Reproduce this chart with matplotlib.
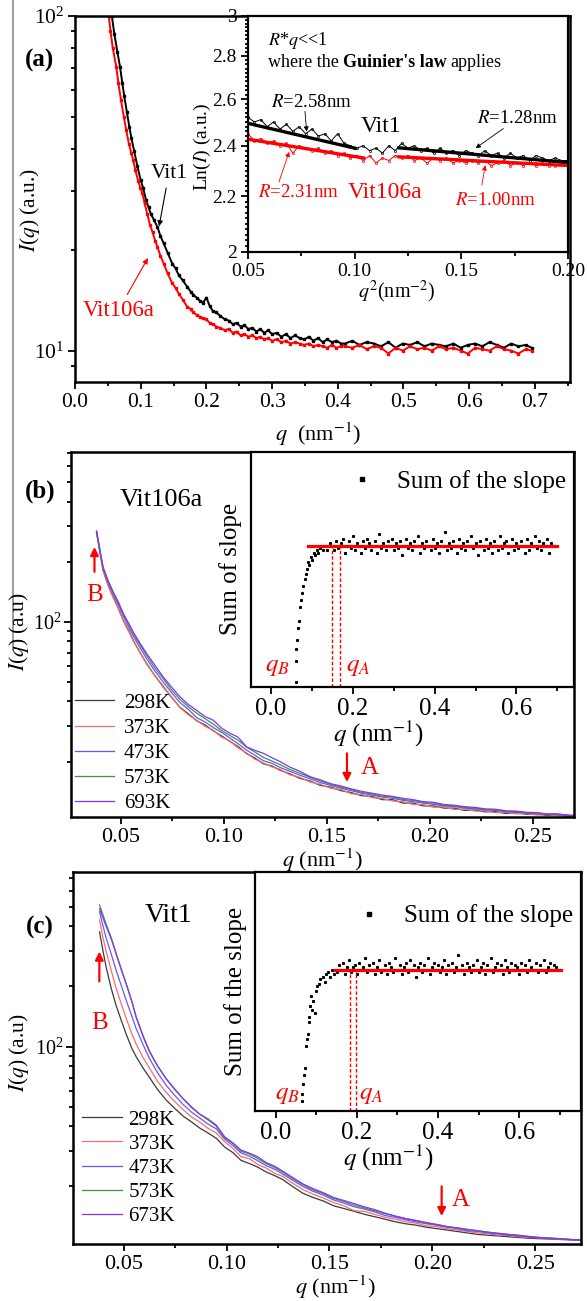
import matplotlib
matplotlib.use("Agg")
import matplotlib.pyplot as plt
from matplotlib.lines import Line2D
from matplotlib.ticker import (MultipleLocator, FixedLocator, FixedFormatter, NullFormatter,
                               LogLocator, FormatStrFormatter)

plt.rcParams['font.family'] = ['Liberation Serif', 'DejaVu Serif']
plt.rcParams['mathtext.fontset'] = 'stix'

W, H = 587, 1301

# ---------------- panel (a): I(q) of the two glasses ----------------
a_vit1 = [(0.056, 100), (0.060, 88), (0.0645, 78), (0.0685, 70.4), (0.072, 63), (0.075, 57.5),
          (0.079, 51.5), (0.0827, 46.6), (0.086, 43), (0.090, 39.5), (0.095, 35.5), (0.0999, 32.3),
          (0.104, 30.5), (0.108, 28.2), (0.112, 26.8), (0.1155, 25.6), (0.120, 24.6), (0.1255, 23.4),
          (0.130, 22.0), (0.135, 20.9), (0.141, 19.6), (0.148, 18.2), (0.153, 17.6), (0.158, 16.8),
          (0.164, 16.2), (0.171, 15.5), (0.176, 15.0), (0.180, 14.7), (0.185, 14.4), (0.190, 14.1),
          (0.195, 13.9), (0.200, 14.4), (0.205, 13.6), (0.210, 13.1), (0.215, 13.0), (0.221, 12.7),
          (0.228, 12.4), (0.234, 12.3), (0.240, 12.0), (0.246, 12.1), (0.252, 11.8), (0.258, 11.9),
          (0.264, 11.6), (0.270, 11.7), (0.276, 11.4), (0.282, 11.6), (0.288, 11.3), (0.294, 11.5),
          (0.300, 11.2), (0.307, 11.3), (0.314, 11.0), (0.321, 11.2), (0.328, 10.9), (0.335, 11.1),
          (0.342, 10.9), (0.349, 10.8), (0.356, 11.0), (0.363, 10.7), (0.370, 10.9), (0.377, 10.6),
          (0.384, 10.8), (0.391, 10.6), (0.398, 10.7), (0.405, 10.5), (0.411, 10.5), (0.422, 10.7),
          (0.433, 10.4), (0.444, 10.6), (0.455, 10.5), (0.466, 10.3), (0.477, 10.6), (0.488, 10.2),
          (0.499, 10.5), (0.510, 10.4), (0.521, 10.6), (0.532, 10.3), (0.543, 10.5), (0.554, 10.4),
          (0.565, 10.3), (0.576, 10.5), (0.587, 10.2), (0.598, 10.4), (0.609, 10.5), (0.620, 10.3),
          (0.631, 10.6), (0.642, 10.4), (0.653, 10.2), (0.664, 10.5), (0.675, 10.3), (0.686, 10.4),
          (0.695, 10.2)]
a_vit106a = [(0.0514, 100), (0.054, 90), (0.0575, 80), (0.0628, 70.4), (0.066, 63), (0.070, 56),
             (0.0742, 50), (0.078, 45.5), (0.082, 41.5), (0.0855, 39), (0.0885, 37.1), (0.092, 34.5),
             (0.096, 32.2), (0.0995, 30.6), (0.1027, 29.5), (0.106, 27.5), (0.110, 25.6), (0.114, 23.8),
             (0.118, 22.6), (0.122, 21.3), (0.1255, 20.4), (0.130, 19.2), (0.135, 18.2), (0.141, 17.0),
             (0.148, 15.9), (0.153, 15.4), (0.158, 14.8), (0.164, 14.2), (0.171, 13.5), (0.176, 13.3),
             (0.180, 13.0), (0.185, 12.8), (0.190, 12.6), (0.195, 12.5), (0.200, 12.4), (0.205, 12.1),
             (0.210, 12.0), (0.215, 11.8), (0.221, 11.7), (0.228, 11.5), (0.234, 11.6), (0.240, 11.3),
             (0.246, 11.4), (0.252, 11.1), (0.258, 11.2), (0.264, 11.0), (0.270, 11.1), (0.276, 10.9),
             (0.282, 11.0), (0.288, 10.8), (0.294, 10.9), (0.300, 10.7), (0.307, 10.8), (0.314, 10.6),
             (0.321, 10.7), (0.328, 10.5), (0.335, 10.6), (0.342, 10.5), (0.349, 10.4), (0.356, 10.5),
             (0.363, 10.3), (0.370, 10.4), (0.377, 10.3), (0.384, 10.2), (0.391, 10.4), (0.398, 10.2),
             (0.405, 10.3), (0.411, 10.3), (0.422, 10.2), (0.433, 10.4), (0.444, 10.1), (0.455, 10.3),
             (0.466, 10.2), (0.477, 9.8), (0.488, 10.2), (0.499, 10.0), (0.510, 10.3), (0.521, 10.1),
             (0.532, 10.2), (0.543, 10.0), (0.554, 10.3), (0.565, 10.1), (0.576, 10.2), (0.587, 10.0),
             (0.598, 9.8), (0.609, 10.2), (0.620, 10.1), (0.631, 10.0), (0.642, 10.3), (0.653, 10.1),
             (0.664, 10.0), (0.675, 9.8), (0.686, 10.1), (0.695, 10.0)]

# inset (a): Guinier plot, ln(I) vs q^2
g_q2 = [0.050, 0.053, 0.056, 0.059, 0.062, 0.065, 0.068, 0.071, 0.074, 0.077, 0.080, 0.083, 0.086,
        0.089, 0.092, 0.095, 0.098, 0.101, 0.104, 0.107, 0.110, 0.113, 0.116, 0.119, 0.122, 0.125,
        0.128, 0.131, 0.134, 0.137, 0.140, 0.143, 0.146, 0.149, 0.152, 0.155, 0.158, 0.161, 0.164,
        0.167, 0.170, 0.173, 0.176, 0.179, 0.182, 0.185, 0.188, 0.191, 0.194, 0.197, 0.200]
g_vit1 = [2.52, 2.50, 2.51, 2.48, 2.50, 2.47, 2.49, 2.46, 2.48, 2.45, 2.47, 2.44, 2.45, 2.42, 2.45,
          2.41, 2.40, 2.39, 2.40, 2.38, 2.39, 2.37, 2.40, 2.38, 2.41, 2.39, 2.40, 2.38, 2.39, 2.37,
          2.39, 2.37, 2.38, 2.36, 2.38, 2.37, 2.36, 2.38, 2.36, 2.37, 2.35, 2.37, 2.35, 2.36, 2.34,
          2.36, 2.35, 2.34, 2.35, 2.34, 2.34]
g_vit106a = [2.45, 2.42, 2.43, 2.41, 2.42, 2.40, 2.41, 2.37, 2.40, 2.39, 2.38, 2.39, 2.37, 2.38,
             2.36, 2.37, 2.35, 2.36, 2.34, 2.36, 2.33, 2.35, 2.34, 2.36, 2.35, 2.36, 2.34, 2.35,
             2.33, 2.35, 2.34, 2.35, 2.33, 2.34, 2.33, 2.34, 2.33, 2.34, 2.32, 2.33, 2.34, 2.32,
             2.33, 2.32, 2.33, 2.32, 2.33, 2.32, 2.32, 2.33, 2.32]
fit_vit1_low = ([0.05, 0.101], [2.494, 2.388])
fit_vit1_high = ([0.12, 0.20], [2.392, 2.332])
fit_106_low = ([0.05, 0.105], [2.427, 2.349])
fit_106_high = ([0.12, 0.20], [2.355, 2.320])

# ---------------- panel (b): Vit106a at different temperatures ----------------
q_b = [0.0383, 0.0400, 0.0415, 0.0440, 0.0464, 0.0490, 0.0513, 0.0540, 0.0561, 0.0595, 0.0626,
       0.0665, 0.0707, 0.0745, 0.0788, 0.0830, 0.0869, 0.0910, 0.0950, 0.0990, 0.1031, 0.1070,
       0.1112, 0.1150, 0.1193, 0.1235, 0.1274, 0.1320, 0.1370, 0.1420, 0.1470, 0.1520, 0.1570,
       0.1620, 0.1670, 0.1720, 0.1770, 0.1820, 0.1870, 0.1920, 0.1970, 0.2020, 0.2070, 0.2120,
       0.2170, 0.2220, 0.2270, 0.2320, 0.2370, 0.2420, 0.2470, 0.2520, 0.2570, 0.2620, 0.2670, 0.2700]
b_298 = [282, 222, 181, 152, 133, 116, 102, 90, 81, 70, 62, 54, 47.5, 42.2, 37.4, 34.6, 32.0, 30.5,
         28.5, 26.9, 25.2, 23.8, 21.9, 20.9, 19.5, 19.0, 18.1, 17.4, 16.5, 16.0, 15.2, 14.9, 14.3,
         14.0, 13.5, 13.4, 12.9, 12.9, 12.4, 12.4, 12.0, 12.0, 11.7, 11.7, 11.4, 11.45, 11.2, 11.25,
         11.0, 11.1, 10.9, 10.95, 10.75, 10.8, 10.65, 10.7]
b_373 = [281, 221, 180, 151, 132, 116, 101, 89, 80.5, 70, 61.5, 54, 47, 42.5, 37.2, 34.2, 32.2, 30.0,
         28.7, 26.5, 25.4, 23.4, 22.1, 20.6, 19.7, 18.8, 18.3, 17.2, 16.7, 15.8, 15.4, 14.7, 14.5,
         13.8, 13.7, 13.2, 13.1, 12.7, 12.6, 12.2, 12.2, 11.8, 11.9, 11.5, 11.6, 11.3, 11.35, 11.1,
         11.15, 10.95, 11.0, 10.8, 10.85, 10.7, 10.75, 10.65]
b_473 = [282, 224, 184, 157, 138, 121, 107, 94, 85, 74, 65.5, 57, 50, 44.5, 39.5, 36.4, 33.2, 31.6,
         29.6, 28.0, 26.2, 24.6, 22.8, 21.6, 20.2, 19.6, 18.7, 17.9, 17.1, 16.4, 15.7, 15.2, 14.7,
         14.3, 13.9, 13.6, 13.3, 13.1, 12.8, 12.6, 12.4, 12.2, 12.0, 11.9, 11.7, 11.6, 11.45, 11.4,
         11.2, 11.2, 11.05, 11.0, 10.9, 10.85, 10.75, 10.7]
b_573 = [283, 225, 186, 159, 140, 124, 109, 97, 87.5, 76.5, 68, 59, 52, 46, 41, 37.5, 35.0, 32.8,
         30.8, 28.6, 27.0, 25.6, 23.6, 22.4, 21.0, 20.1, 19.3, 18.3, 17.5, 16.7, 16.0, 15.4, 14.9,
         14.5, 14.0, 13.8, 13.4, 13.3, 12.9, 12.8, 12.5, 12.4, 12.1, 12.0, 11.8, 11.7, 11.5, 11.5,
         11.3, 11.25, 11.1, 11.05, 10.95, 10.9, 10.8, 10.75]
b_693 = [285, 227, 188, 160, 141, 125, 110, 98, 89, 78, 69.5, 61, 53, 47.5, 42.2, 38.5, 36.1, 33.6,
         32.2, 29.4, 27.7, 26.5, 23.7, 22.8, 22.0, 20.9, 20.0, 18.8, 17.9, 16.8, 16.2, 15.5, 15.1,
         14.6, 14.2, 13.9, 13.6, 13.4, 13.1, 12.9, 12.6, 12.5, 12.2, 12.1, 11.9, 11.8, 11.6, 11.55,
         11.35, 11.3, 11.15, 11.1, 10.95, 10.95, 10.8, 10.75]
b_labels = ['298K', '373K', '473K', '573K', '693K']

# ---------------- panel (c): Vit1 at different temperatures ----------------
q_c = [0.0383, 0.0400, 0.0415, 0.0440, 0.0464, 0.0490, 0.0513, 0.0540, 0.0561, 0.0595, 0.0626,
       0.0665, 0.0707, 0.0745, 0.0788, 0.0830, 0.0869, 0.0910, 0.0950, 0.0990, 0.1031, 0.1070,
       0.1112, 0.1150, 0.1193, 0.1235, 0.1274, 0.1320, 0.1370, 0.1420, 0.1470, 0.1520, 0.1570,
       0.1620, 0.1670, 0.1720, 0.1770, 0.1820, 0.1870, 0.1920, 0.1970, 0.2020, 0.2070, 0.2120,
       0.2170, 0.2220, 0.2270, 0.2320, 0.2370, 0.2420, 0.2470, 0.2520, 0.2570, 0.2620, 0.2670, 0.2720]
c_298 = [375, 300, 250, 195, 160, 134, 115, 98, 89, 78, 70, 61, 54, 49.5, 45, 42, 39.2, 37, 34.8,
         31.5, 29.5, 27.0, 26.0, 25.0, 23.6, 22.6, 21.6, 20.0, 18.5, 17.6, 16.9, 16.0, 15.5, 15.0,
         14.5, 14.1, 13.7, 13.3, 13.0, 12.8, 12.5, 12.3, 12.1, 11.9, 11.7, 11.5, 11.4, 11.3, 11.2,
         11.1, 11.0, 10.95, 10.9, 10.85, 10.8, 10.75]
c_373 = [430, 350, 300, 240, 195, 162, 138, 116, 103, 88, 78, 67, 59, 53.5, 48.5, 44.5, 42.0, 39.0,
         37.0, 33.5, 31.0, 28.2, 27.5, 25.8, 24.7, 23.2, 22.4, 20.8, 19.3, 18.3, 17.5, 16.6, 16.0,
         15.1, 15.0, 14.5, 14.0, 13.7, 13.3, 13.1, 12.7, 12.6, 12.3, 12.1, 11.9, 11.7, 11.6, 11.4,
         11.35, 11.2, 11.1, 11.05, 10.95, 10.9, 10.8, 10.75]
c_473 = [473, 400, 350, 290, 240, 200, 170, 142, 123, 102, 87, 74, 64, 57.5, 51.5, 47, 44, 41, 38.8,
         34.5, 32.0, 29.4, 28.3, 26.9, 25.4, 24.3, 23.0, 21.5, 20.0, 18.9, 18.1, 17.1, 16.5, 15.8,
         15.4, 14.9, 14.3, 14.0, 13.6, 13.3, 13.0, 12.8, 12.5, 12.3, 12.0, 11.9, 11.7, 11.55, 11.4,
         11.3, 11.15, 11.05, 11.0, 10.9, 10.85, 10.75]
c_573 = [511, 455, 410, 350, 292, 242, 206, 168, 141, 113, 95, 80, 69, 61.5, 55, 49.5, 46, 43, 40,
         35, 32.8, 30.0, 29.0, 27.6, 26.0, 24.8, 23.5, 21.9, 20.4, 19.2, 18.4, 17.4, 16.8, 16.1,
         15.6, 15.1, 14.6, 14.2, 13.8, 13.5, 13.1, 12.9, 12.6, 12.4, 12.15, 12.0, 11.8, 11.65, 11.5,
         11.4, 11.25, 11.1, 11.05, 10.95, 10.85, 10.8]
c_673 = [490, 440, 400, 345, 290, 240, 205, 168, 140, 112, 94, 80, 69, 62, 55, 50, 46, 43.5, 40.5,
         35.5, 33, 30.4, 29.3, 28.2, 26.3, 25.2, 23.8, 22.2, 20.6, 19.5, 18.6, 17.6, 17.0, 16.4,
         15.8, 15.3, 14.7, 14.2, 13.8, 13.5, 13.2, 12.9, 12.6, 12.4, 12.2, 12.0, 11.8, 11.65, 11.5,
         11.35, 11.2, 11.1, 11.0, 10.95, 10.85, 10.8]
c_labels = ['298K', '373K', '473K', '573K', '673K']

curve_colors = ['#3a3a3a', '#ff6b6b', '#5c5cff', '#3c963c', '#8f2ff5']

# ---------------- insets (b),(c): sum of the slope ----------------
plateau_q = [0.150, 0.155, 0.160, 0.165, 0.170, 0.175, 0.180, 0.185, 0.190, 0.195,
             0.200, 0.205, 0.210, 0.215, 0.220, 0.225, 0.230, 0.235, 0.240, 0.245,
             0.250, 0.255, 0.260, 0.265, 0.270, 0.275, 0.280, 0.285, 0.290, 0.295,
             0.300, 0.305, 0.310, 0.315, 0.320, 0.325, 0.330, 0.335, 0.340, 0.345,
             0.350, 0.355, 0.360, 0.365, 0.370, 0.375, 0.380, 0.385, 0.390, 0.395,
             0.400, 0.405, 0.410, 0.415, 0.420, 0.425, 0.430, 0.435, 0.440, 0.445,
             0.450, 0.455, 0.460, 0.465, 0.470, 0.475, 0.480, 0.485, 0.490, 0.495,
             0.500, 0.505, 0.510, 0.515, 0.520, 0.525, 0.530, 0.535, 0.540, 0.545,
             0.550, 0.555, 0.560, 0.565, 0.570, 0.575, 0.580, 0.585, 0.590, 0.595,
             0.600, 0.605, 0.610, 0.615, 0.620, 0.625, 0.630, 0.635, 0.640, 0.645,
             0.650, 0.655, 0.660, 0.665, 0.670, 0.675, 0.680, 0.685, 0.690]

sb_rise_q = [0.060, 0.061, 0.062, 0.063, 0.066, 0.068, 0.071, 0.073, 0.076, 0.079, 0.082, 0.085, 0.088,
             0.091, 0.094, 0.097, 0.100, 0.104, 0.108, 0.112, 0.116, 0.120, 0.126, 0.132, 0.138, 0.145]
sb_rise_s = [0.02, 0.11, 0.16, 0.20, 0.25, 0.28, 0.34, 0.37, 0.40, 0.43, 0.46, 0.48, 0.50,
             0.53, 0.52, 0.55, 0.54, 0.57, 0.56, 0.58, 0.57, 0.59, 0.58, 0.60, 0.58, 0.61]
sb_plateau_s = [0.60, 0.58, 0.62, 0.59, 0.61, 0.63, 0.57, 0.60, 0.62, 0.59,
                0.64, 0.58, 0.61, 0.60, 0.57, 0.62, 0.59, 0.63, 0.61, 0.58,
                0.60, 0.62, 0.57, 0.65, 0.59, 0.61, 0.58, 0.62, 0.60, 0.63,
                0.58, 0.61, 0.59, 0.62, 0.56, 0.60, 0.63, 0.59, 0.61, 0.58,
                0.62, 0.60, 0.64, 0.57, 0.61, 0.59, 0.62, 0.60, 0.58, 0.63,
                0.59, 0.61, 0.57, 0.62, 0.60, 0.66, 0.58, 0.61, 0.59, 0.62,
                0.60, 0.57, 0.63, 0.59, 0.61, 0.58, 0.62, 0.60, 0.64, 0.59,
                0.61, 0.56, 0.62, 0.60, 0.58, 0.63, 0.59, 0.61, 0.57, 0.62,
                0.60, 0.58, 0.64, 0.59, 0.61, 0.62, 0.57, 0.60, 0.63, 0.58,
                0.61, 0.59, 0.62, 0.60, 0.57, 0.63, 0.58, 0.61, 0.60, 0.64,
                0.59, 0.62, 0.58, 0.61, 0.60, 0.63, 0.57, 0.61, 0.60]
sb_level, sb_fit_q = 0.599, [0.091, 0.700]
sb_qB, sb_qA = 0.149, 0.168

sc_rise_q = [0.0645, 0.0660, 0.0675, 0.069, 0.071, 0.074, 0.0765, 0.0785, 0.081, 0.083, 0.0855, 0.088,
             0.0905, 0.093, 0.097, 0.099, 0.102, 0.106, 0.110, 0.1155, 0.121, 0.125, 0.129, 0.134,
             0.139, 0.144]
sc_rise_s = [0.04, 0.07, 0.11, 0.15, 0.18, 0.27, 0.30, 0.32, 0.37, 0.39, 0.44, 0.48, 0.42, 0.46,
             0.41, 0.50, 0.52, 0.53, 0.55, 0.56, 0.54, 0.57, 0.58, 0.56, 0.59, 0.57]
sc_plateau_s = [0.58, 0.61, 0.59, 0.62, 0.57, 0.60, 0.63, 0.58, 0.60, 0.61,
                0.57, 0.62, 0.59, 0.60, 0.64, 0.58, 0.61, 0.59, 0.62, 0.57,
                0.60, 0.63, 0.58, 0.59, 0.61, 0.57, 0.62, 0.60, 0.58, 0.64,
                0.59, 0.61, 0.57, 0.60, 0.62, 0.58, 0.63, 0.59, 0.61, 0.56,
                0.60, 0.62, 0.58, 0.61, 0.59, 0.64, 0.57, 0.60, 0.62, 0.59,
                0.61, 0.58, 0.60, 0.63, 0.57, 0.61, 0.59, 0.62, 0.58, 0.60,
                0.65, 0.59, 0.61, 0.57, 0.62, 0.60, 0.58, 0.61, 0.59, 0.63,
                0.58, 0.60, 0.62, 0.57, 0.61, 0.59, 0.64, 0.58, 0.60, 0.62,
                0.59, 0.61, 0.57, 0.63, 0.60, 0.58, 0.62, 0.59, 0.61, 0.60,
                0.57, 0.62, 0.59, 0.61, 0.58, 0.63, 0.60, 0.59, 0.62, 0.58,
                0.61, 0.59, 0.63, 0.58, 0.60, 0.62, 0.59, 0.61, 0.60]
sc_level, sc_fit_q = 0.589, [0.145, 0.703]
sc_qB, sc_qA = 0.184, 0.198


def rect(l, t, r, b):
    return [l / W, 1 - b / H, (r - l) / W, (b - t) / H]


def fxy(x, y):
    return (x / W, 1 - y / H)


def style(ax, size, lw=1.8):
    for s in ax.spines.values():
        s.set_linewidth(lw)
    ax.tick_params(which='both', direction='out', width=1.3, labelsize=size, top=False, right=False)
    ax.tick_params(which='major', length=5, pad=3)
    ax.tick_params(which='minor', length=3)


fig = plt.figure(figsize=(W / 100, H / 100), dpi=100)
fig.add_artist(Line2D([13 / W, 13 / W], [1, 1 - 650 / H], color='0.55', lw=1.2))

# ======== (a) main ========
ax = fig.add_axes(rect(75, 15.7, 570, 382))
ax.set_yscale('log')
qv, iv = zip(*a_vit1)
qr, ir = zip(*a_vit106a)
ax.plot(qv, iv, color='black', lw=1.4, marker='s', ms=1.7)
ax.plot(qr, ir, color='red', lw=1.4, marker='s', ms=1.7)
ax.set_xlim(0, 0.7535)
ax.set_ylim(8.06, 100)
ax.xaxis.set_major_locator(MultipleLocator(0.1))
ax.xaxis.set_minor_locator(MultipleLocator(0.05))
ax.xaxis.set_major_formatter(FormatStrFormatter('%.1f'))
ax.yaxis.set_minor_formatter(NullFormatter())
style(ax, 15.5)
ax.annotate('Vit1', xy=(0.128, 23.5), xytext=(0.143, 33.9), fontsize=15.5, ha='center', va='center',
            arrowprops=dict(arrowstyle='-|>', color='black', lw=0.8, mutation_scale=8, shrinkB=0))
ax.annotate('Vit106a', xy=(0.111, 18.9), xytext=(0.066, 13.2), fontsize=16.5, color='red',
            ha='center', va='center',
            arrowprops=dict(arrowstyle='-|>', color='red', lw=0.8, mutation_scale=8, shrinkB=0))
fig.text(*fxy(40, 60), '(a)', fontsize=18, fontweight='bold', ha='center', va='center')
fig.text(*fxy(30, 210), r'$I$($q$) (a.u.)', fontsize=15.5, rotation=90, ha='center', va='center')
fig.text(*fxy(318, 434), r'$q$  (nm$^{-1}$)', fontsize=16, ha='center', va='center')

# ======== (a) inset ========
ai = fig.add_axes(rect(248, 15.7, 568, 252))
ai.set_facecolor('white')
ai.set_yscale('log')
ai.plot(g_q2, g_vit1, color='black', lw=0.7, marker='o', ms=1.6, mfc='none', mew=0.5)
ai.plot(g_q2, g_vit106a, color='red', lw=0.7, marker='o', ms=1.6, mfc='none', mew=0.5)
for fx, fy, c in [(fit_vit1_low[0], fit_vit1_low[1], 'black'), (fit_vit1_high[0], fit_vit1_high[1], 'black'),
                  (fit_106_low[0], fit_106_low[1], 'red'), (fit_106_high[0], fit_106_high[1], 'red')]:
    ai.plot(fx, fy, color=c, lw=2.4, solid_capstyle='butt')
ai.set_xlim(0.05, 0.2)
ai.set_ylim(2, 3)
ai.yaxis.set_major_locator(FixedLocator([2, 2.2, 2.4, 2.6, 2.8, 3]))
ai.yaxis.set_minor_locator(FixedLocator([2 + 0.02 * i for i in range(51)]))
ai.yaxis.set_major_formatter(FixedFormatter(['2', '2.2', '2.4', '2.6', '2.8', '3']))
ai.yaxis.set_minor_formatter(NullFormatter())
ai.xaxis.set_major_locator(MultipleLocator(0.05))
ai.xaxis.set_minor_locator(MultipleLocator(0.025))
ai.xaxis.set_major_formatter(FormatStrFormatter('%.2f'))
style(ai, 14, lw=1.6)
ai.tick_params(which='minor', axis='y', length=2)
fig.text(*fxy(397, 292), r'$q^2$(nm$^{-2}$)', fontsize=14.5, ha='center', va='center')
fig.text(*fxy(202, 147), r'Ln($I$) (a.u.)', fontsize=14, rotation=90, ha='center', va='center')

ai.text(0.0592, 2.876, r'$R$*$q$<<1', fontsize=13, va='center')
rend = fig.canvas.get_renderer()
x0, y0 = fxy(267.7, 62.7)
t1 = fig.text(x0, y0, 'where the', fontsize=13, va='center')
gap = 4.0
bb = t1.get_window_extent(rend)
t2 = fig.text((bb.x1 + gap) / W, y0, "Guinier's law", fontsize=13, fontweight='bold', va='center')
bb = t2.get_window_extent(rend)
fig.text((bb.x1 + gap) / W, y0, 'applies', fontsize=13, va='center')

arr_k = dict(arrowstyle='-|>', color='black', lw=0.6, mutation_scale=7, shrinkA=0, shrinkB=0)
arr_r = dict(arrowstyle='-|>', color='red', lw=0.6, mutation_scale=7, shrinkA=0, shrinkB=0)
ai.text(0.0608, 2.587, r'$R$=2.58nm', fontsize=13.5, va='center')
ai.annotate('', xy=(0.0775, 2.459), xytext=(0.0767, 2.546), arrowprops=arr_k)
ai.text(0.0547, 2.214, r'$R$=2.31nm', fontsize=13.5, va='center', color='red')
ai.annotate('', xy=(0.0693, 2.375), xytext=(0.0645, 2.255), arrowprops=arr_r)
ai.text(0.1126, 2.479, 'Vit1', fontsize=17, ha='center', va='center')
ai.text(0.1142, 2.214, 'Vit106a', fontsize=17, ha='center', va='center', color='red')
ai.text(0.1572, 2.516, r'$R$=1.28nm', fontsize=13.5, va='center')
ai.annotate('', xy=(0.1567, 2.390), xytext=(0.1697, 2.472), arrowprops=arr_k)
ai.text(0.147, 2.186, r'$R$=1.00nm', fontsize=13.5, va='center', color='red')
ai.annotate('', xy=(0.1612, 2.321), xytext=(0.1596, 2.243), arrowprops=arr_r)


def temp_panel(box, qgrid, series, labels, ylim, xlim, leg_xy, leg_len, leg_pad, leg_sp):
    axm = fig.add_axes(rect(*box))
    axm.set_yscale('log')
    lines = []
    for vals, col in zip(series, curve_colors):
        ln, = axm.plot(qgrid, vals, color=col, lw=0.9)
        lines.append(ln)
    axm.set_xlim(*xlim)
    axm.set_ylim(*ylim)
    axm.xaxis.set_major_locator(MultipleLocator(0.05))
    axm.xaxis.set_minor_locator(MultipleLocator(0.025))
    axm.xaxis.set_major_formatter(FormatStrFormatter('%.2f'))
    axm.yaxis.set_major_locator(LogLocator(base=10))
    axm.yaxis.set_minor_locator(LogLocator(base=10, subs=range(2, 10)))
    axm.yaxis.set_minor_formatter(NullFormatter())
    style(axm, 16)
    axm.tick_params(axis='y', labelsize=14.5, pad=2)
    axm.legend(lines, labels, loc='upper left', bbox_to_anchor=fxy(*leg_xy),
               bbox_transform=fig.transFigure, frameon=False, fontsize=15, handlelength=leg_len,
               handletextpad=leg_pad, labelspacing=leg_sp, borderpad=0, borderaxespad=0)
    return axm


def slope_inset(box, rise_q, rise_s, plat_s, level, fit_q, qB, qA, xlim, ylabel, leg_xy):
    axi = fig.add_axes(rect(*box))
    axi.set_facecolor('white')
    axi.plot(rise_q, rise_s, ls='none', marker='s', ms=1.2, color='black')
    axi.plot(plateau_q, plat_s, ls='none', marker='s', ms=1.2, color='black')
    axi.plot(fit_q, [level, level], color='red', lw=2.3)
    axi.vlines([qB, qA], 0, level, colors='red', linestyles=(0, (2.5, 1.5)), lw=1.0)
    axi.set_xlim(*xlim)
    axi.set_ylim(0, 1)
    axi.set_yticks([])
    axi.xaxis.set_major_locator(MultipleLocator(0.2))
    axi.xaxis.set_minor_locator(MultipleLocator(0.1))
    axi.xaxis.set_major_formatter(FormatStrFormatter('%.1f'))
    style(axi, 18, lw=1.6)
    axi.set_ylabel(ylabel, fontsize=18, labelpad=6)
    axi.legend(handles=[Line2D([], [], ls='none', marker='s', ms=3.5, color='black')],
               labels=['Sum of the slope'], loc='center right', bbox_to_anchor=fxy(*leg_xy),
               bbox_transform=fig.transFigure, frameon=False, fontsize=18, handlelength=1.4,
               handletextpad=0.7, borderpad=0, borderaxespad=0)
    return axi


red_arrow = dict(arrowstyle='-|>', color='red', lw=1.6, mutation_scale=12, shrinkA=0, shrinkB=0)

# ======== (b) ========
bm = temp_panel((71.2, 451.7, 573.7, 816.7), q_b, [b_298, b_373, b_473, b_573, b_693], b_labels,
                (10.6, 710), (0.026, 0.270), (75, 693), 1.85, 0.5, 0.27)
bm.annotate('', xy=(0.0373, 237), xytext=(0.0373, 178), arrowprops=red_arrow)
bm.text(0.0373, 136, 'B', fontsize=18, color='red', ha='center', va='center')
bm.annotate('', xy=(0.1599, 15.8), xytext=(0.1599, 22.0), arrowprops=red_arrow)
bm.text(0.1711, 18.5, 'A', fontsize=18, color='red', ha='center', va='center')
fig.text(*fxy(40, 491.7), '(b)', fontsize=18, fontweight='bold', ha='center', va='center')
fig.text(*fxy(161.5, 500), 'Vit106a', fontsize=19, ha='center', va='center')
fig.text(*fxy(19, 632), r'$I$($q$) (a.u)', fontsize=15.5, rotation=90, ha='center', va='center')
fig.text(*fxy(322, 860), r'$q$ (nm$^{-1}$)', fontsize=16, ha='center', va='center')

bi = slope_inset((250.5, 451.7, 573.7, 686.7), sb_rise_q, sb_rise_s, sb_plateau_s, sb_level, sb_fit_q,
                 sb_qB, sb_qA, (-0.05, 0.74), 'Sum of slope', (566, 481.7))
bi.text(0.015, 0.084, r'$q_B$', fontsize=18, color='red', ha='center', va='center')
bi.text(0.213, 0.084, r'$q_A$', fontsize=18, color='red', ha='center', va='center')
fig.text(*fxy(378.7, 734), r'$q$ (nm$^{-1}$)', fontsize=18, ha='center', va='center')

# ======== (c) ========
cm = temp_panel((73, 871.7, 581, 1244), q_c, [c_298, c_373, c_473, c_573, c_673], c_labels,
                (10.3, 750), (0.0254, 0.2722), (81.7, 1110), 1.95, 0.3, 0.22)
cm.annotate('', xy=(0.0382, 299), xytext=(0.0382, 212), arrowprops=red_arrow)
cm.text(0.0382, 131, 'B', fontsize=18, color='red', ha='center', va='center')
cm.annotate('', xy=(0.2045, 14.2), xytext=(0.2045, 20.0), arrowprops=red_arrow)
cm.text(0.2139, 17.1, 'A', fontsize=18, color='red', ha='center', va='center')
fig.text(*fxy(39.4, 927), '(c)', fontsize=18, fontweight='bold', ha='center', va='center')
fig.text(*fxy(169, 916), 'Vit1', fontsize=20, ha='center', va='center')
fig.text(*fxy(19, 1053), r'$I$($q$) (a.u)', fontsize=15.5, rotation=90, ha='center', va='center')
fig.text(*fxy(335, 1287), r'$q$ (nm$^{-1}$)', fontsize=16, ha='center', va='center')

ci = slope_inset((255, 871.7, 581, 1110.7), sc_rise_q, sc_rise_s, sc_plateau_s, sc_level, sc_fit_q,
                 sc_qB, sc_qA, (-0.051, 0.752), 'Sum of the slope', (573, 916))
ci.text(0.0285, 0.066, r'$q_B$', fontsize=18, color='red', ha='center', va='center')
ci.text(0.235, 0.066, r'$q_A$', fontsize=18, color='red', ha='center', va='center')
fig.text(*fxy(388, 1158), r'$q$ (nm$^{-1}$)', fontsize=18, ha='center', va='center')

fig.savefig('out.png', dpi=100)
